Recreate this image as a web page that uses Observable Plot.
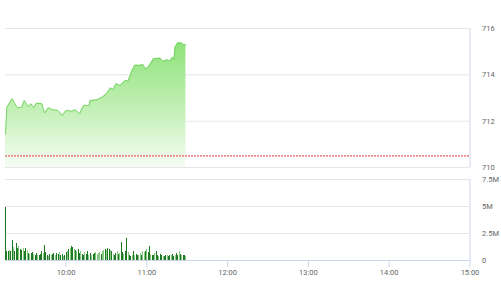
<!DOCTYPE html>
<html>
<head>
<meta charset="utf-8">
<script src="https://cdn.jsdelivr.net/npm/d3@7"></script>
<script src="https://cdn.jsdelivr.net/npm/@observablehq/plot@0.6"></script>
<style>
  html, body { margin: 0; padding: 0; background: #fff; }
  #chart { width: 501px; height: 300px; position: relative; }
  #chart svg { display: block; }
</style>
</head>
<body>
<div id="chart"></div>
<script>
// ---- data ----
const sessionStart = "09:15";
const sessionEnd = "15:00";
const refPrice = 710.5;
const priceTicks = [710, 712, 714, 716];
const volTicks = [0, 2.5e6, 5e6, 7.5e6];
const volTickLabels = ["0", "2.5M", "5M", "7.5M"];
const hourTicks = ["10:00", "11:00", "12:00", "13:00", "14:00", "15:00"];

const priceTimes = ["09:15","09:16","09:20","09:22","09:24","09:27","09:29","09:32","09:34","09:36",
  "09:38","09:42","09:44","09:47","09:50","09:54","09:57","10:00","10:04","10:07",
  "10:10","10:13","10:17","10:18","10:23","10:27","10:30","10:33","10:35","10:37",
  "10:40","10:44","10:46","10:49","10:51","10:55","10:57","10:59","11:01","11:05",
  "11:10","11:12","11:15","11:17","11:19","11:20","11:21","11:23","11:26","11:27","11:29"];
const priceValues = [711.45,712.60,712.97,712.75,712.58,712.60,712.89,712.63,712.75,712.58,
  712.78,712.75,712.35,712.58,712.49,712.46,712.25,712.46,712.43,712.49,
  712.32,712.68,712.68,712.89,712.92,713.04,713.18,713.44,713.36,713.62,
  713.54,713.76,713.73,714.19,714.41,714.41,714.45,714.26,714.33,714.70,
  714.72,714.58,714.65,714.59,714.76,714.65,715.20,715.39,715.37,715.30,715.30];

// volume per minute from 09:15, in millions
const volumeM = [4.9,0.86,0.80,0.96,0.86,1.88,1.17,0.80,1.57,1.11,
  1.27,1.05,0.96,1.11,0.80,1.11,0.96,0.65,0.56,0.65,
  0.74,0.56,0.49,0.62,0.43,0.49,0.56,0.80,0.65,1.42,
  0.74,0.49,0.34,0.56,0.43,0.56,0.62,0.49,0.65,0.56,
  0.74,0.43,0.56,0.34,0.49,0.74,0.80,1.05,1.11,1.27,
  1.17,1.05,0.96,0.80,1.05,0.65,0.80,0.56,0.49,0.74,
  0.56,0.86,0.49,0.65,0.43,0.56,0.62,0.74,0.56,0.65,
  0.74,0.56,0.80,0.93,1.05,0.96,1.11,1.05,0.93,0.80,
  0.56,0.49,0.65,0.80,0.56,0.65,1.67,0.74,0.56,0.80,
  2.04,0.74,0.49,0.34,0.43,0.80,0.49,0.56,0.43,0.49,
  0.65,0.49,0.80,0.74,0.86,1.05,0.74,1.27,0.56,0.43,
  0.49,0.65,0.80,0.43,0.37,0.56,0.49,0.34,0.37,0.43,
  0.49,0.34,0.43,0.49,0.56,0.37,0.49,0.62,0.43,0.80,
  0.56,0.43,0.49,0.49,0.34];
// 1 = dark bar, 0 = light bar
const volumeShade = [1,1,1,0,1,1,0,1,1,1, 0,1,1,0,1,1,0,1,0,1,
  1,0,1,1,0,1,1,1,0,1, 1,1,0,1,0,1,1,0,1,1,
  0,1,1,0,1,1,0,1,0,1, 1,0,1,0,1,1,0,1,1,0,
  1,1,0,1,0,1,1,0,0,0, 0,1,0,0,1,0,1,1,0,1,
  0,1,1,0,1,0,1,1,0,1, 1,0,1,1,0,1,0,1,1,0,
  0,1,0,0,1,0,1,1,0,1, 1,0,1,1,0,1,1,0,1,1,
  0,1,1,0,1,1,0,1,1,0, 1,0,1,1,0];

// ---- helpers ----
const T = s => { const [h, m] = s.split(":").map(Number); return new Date(2020, 0, 1, h, m); };
const xDomain = [T(sessionStart), T(sessionEnd)];
const priceData = priceTimes.map((t, i) => ({t: T(t), v: priceValues[i]}));
const t0 = T(sessionStart);
const volData = volumeM.map((v, i) => ({
  t: new Date(t0.getTime() + i * 60000),
  v: v * 1e6,
  s: volumeShade[i] ? "dark" : "light"
}));
const fmtHM = d3.timeFormat("%H:%M");

const font = "Roboto, 'DejaVu Sans', sans-serif";
const W = 501;
const mL = 5, mR = 31.5;
const gridColor = "#e6e6e6";
const axisColor = "#ccd6eb";
const labelColor = "#666666";

function gradientDefs() {
  const ns = "http://www.w3.org/2000/svg";
  const defs = document.createElementNS(ns, "defs");
  const g = document.createElementNS(ns, "linearGradient");
  g.setAttribute("id", "priceGrad");
  g.setAttribute("x1", "0"); g.setAttribute("y1", "0");
  g.setAttribute("x2", "0"); g.setAttribute("y2", "1");
  [["0%", "#8ee27a"], ["55%", "#c4f0b8"], ["100%", "#f6fdf4"]].forEach(([o, c]) => {
    const s = document.createElementNS(ns, "stop");
    s.setAttribute("offset", o); s.setAttribute("stop-color", c);
    g.appendChild(s);
  });
  defs.appendChild(g);
  return defs;
}

const pricePlot = Plot.plot({
  width: W, height: 172,
  marginTop: 28, marginBottom: 5, marginLeft: mL, marginRight: mR,
  style: {fontFamily: font, fontSize: "7.5px", background: "transparent"},
  x: {domain: xDomain, axis: null, label: null},
  y: {domain: [710, 716], label: null},
  marks: [
    gradientDefs,
    Plot.ruleY(priceTicks, {stroke: gridColor, strokeWidth: 1}),
    Plot.areaY(priceData, {x: "t", y1: 710, y2: "v", fill: "url(#priceGrad)", curve: "linear"}),
    Plot.lineY(priceData, {x: "t", y: "v", stroke: "#77d665", strokeWidth: 1}),
    Plot.ruleY([refPrice], {stroke: "#e2343a", strokeWidth: 1, strokeDasharray: "2,1"}),
    Plot.ruleX([xDomain[1]], {y1: 710, y2: 716, stroke: axisColor}),
    Plot.axisY(priceTicks, {anchor: "right", label: null, tickSize: 0, tickPadding: 12,
      fill: labelColor, tickFormat: d => String(d)})
  ]
});

const volumePlot = Plot.plot({
  width: W, height: 128,
  marginTop: 7, marginBottom: 40, marginLeft: mL, marginRight: mR,
  style: {fontFamily: font, fontSize: "7.5px", background: "transparent"},
  x: {domain: xDomain, label: null},
  y: {domain: [0, 7.5e6], label: null},
  color: {domain: ["dark", "light"], range: ["#1f7a24", "#86cc80"]},
  marks: [
    Plot.ruleY(volTicks.slice(1), {stroke: gridColor}),
    Plot.ruleX(volData, {x: "t", y1: 0, y2: "v", stroke: "s", strokeWidth: 1, shapeRendering: "crispEdges"}),
    Plot.ruleY([0], {stroke: axisColor}),
    Plot.ruleX([xDomain[1]], {y1: 0, y2: 7.5e6, stroke: axisColor}),
    Plot.axisY(volTicks, {anchor: "right", label: null, tickSize: 0, tickPadding: 12, fill: labelColor,
      tickFormat: d => volTickLabels[volTicks.indexOf(d)]}),
    Plot.axisX(hourTicks.map(T), {anchor: "bottom", label: null, tickSize: 7, tickPadding: 2,
      stroke: axisColor, fill: labelColor, tickFormat: fmtHM})
  ]
});

const el = document.getElementById("chart");
el.appendChild(pricePlot);
el.appendChild(volumePlot);
</script>
</body>
</html>
